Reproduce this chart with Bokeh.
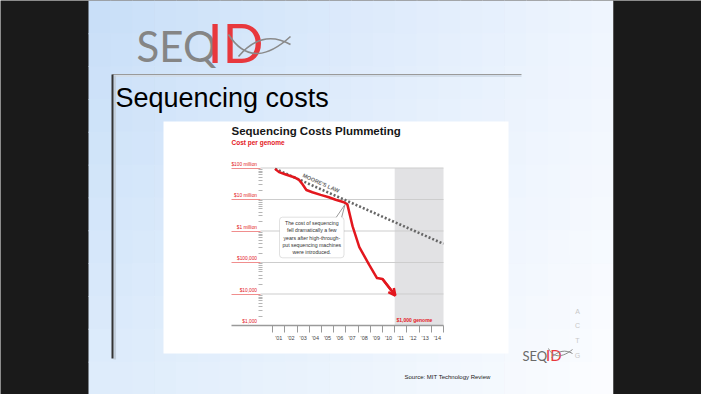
import numpy as np
from bokeh.plotting import figure
from bokeh.models import (Range1d, LinearAxis, LogAxis, FixedTicker, BoxAnnotation,
                          Arrow, OpenHead, ColumnDataSource)
from bokeh.core.properties import value
from bokeh.embed import file_html
from bokeh.resources import INLINE

# ---------------- data ----------------
cost_years = [2001.19, 2001.52, 2002.07, 2002.75, 2003.16, 2003.43, 2003.76, 2004.25,
              2004.93, 2005.60, 2006.16, 2006.84, 2007.12, 2007.55, 2008.10, 2008.90,
              2009.55, 2010.00, 2011.05]
cost_per_genome = [94e6, 74e6, 62e6, 51e6, 42e6, 31e6, 20e6, 17e6,
                   14e6, 11.8e6, 9.8e6, 8.2e6, 7.0e6, 1.4e6, 3.1e5, 8.5e4,
                   3.2e4, 3.0e4, 8.9e3]
moore_years = [2001.2, 2015.0]
moore_cost = [94e6, 3.9e5]
y_tick_values = [1e3, 1e4, 1e5, 1e6, 1e7, 1e8]
y_tick_labels = ["$1,000", "$10,000", "$100,000", "$1 million", "$10 million", "$100 million"]
x_tick_years = list(range(2001, 2015))
x_tick_labels = ["'01", "'02", "'03", "'04", "'05", "'06", "'07", "'08", "'09", "'10",
                 "'11", "'12", "'13", "'14"]
axis_start_year, axis_end_year = 2000, 2015
forecast_years = [2011, 2015]
callout_lines = ["The cost of sequencing", "fell dramatically a few",
                 "years after high-through-", "put sequencing machines",
                 "were introduced."]

# ---------------- layout (pixel geometry of the screenshot) ----------------
W, H = 701, 394
OFF = 0
PX_PER_YEAR = 12.2
X_ANCHOR_YEAR, X_ANCHOR_PX = 2001, 272.2
PX_PER_DEC = 31.5
Y_ANCHOR_DEC, Y_ANCHOR_PX = 3, 325.0

x_start = X_ANCHOR_YEAR - (X_ANCHOR_PX - OFF) / PX_PER_YEAR
x_end = x_start + W / PX_PER_YEAR
dec_top = Y_ANCHOR_DEC + (Y_ANCHOR_PX - OFF) / PX_PER_DEC
dec_bot = dec_top - H / PX_PER_DEC


def dx(px):
    return x_start + (px - OFF) / PX_PER_YEAR


def dy(py):
    return 10 ** (dec_top - (py - OFF) / PX_PER_DEC)


def base(py, size, k=0.3):
    # alphabetic baseline correction for the text glyph
    return dy(py - k * size)


RED = "#e3171e"
FONT = "Liberation Sans"

p = figure(width=W, height=H, x_range=Range1d(x_start, x_end),
           y_range=Range1d(10 ** dec_bot, 10 ** dec_top), y_axis_type="log",
           x_axis_location=None, y_axis_location=None, output_backend="svg",
           toolbar_location=None, title=None, min_border=0)
p.grid.visible = False
p.outline_line_color = None
p.background_fill_color = "#1a1a1a"
p.border_fill_color = "#1a1a1a"

# ---------------- slide background gradient ----------------
SL, SR = 88, 613
nx, ny = 24, 12
xe = np.linspace(SL, SR, nx + 1)
ye = np.linspace(OFF, OFF + H, ny + 1)
TL = np.array([199, 222, 248]); TR = np.array([239, 245, 254])
BL = np.array([222, 236, 251]); BR = np.array([252, 253, 255])
L, R, T, B, C = [], [], [], [], []
for i in range(nx):
    for j in range(ny):
        u = ((xe[i] + xe[i + 1]) / 2 - SL) / (SR - SL)
        v = ((ye[j] + ye[j + 1]) / 2 - OFF) / H
        c = (1 - u) * (1 - v) * TL + u * (1 - v) * TR + (1 - u) * v * BL + u * v * BR
        L.append(dx(xe[i])); R.append(dx(min(xe[i + 1] + 0.8, SR)))
        T.append(dy(ye[j])); B.append(dy(ye[j + 1] + 0.8))
        C.append("#%02x%02x%02x" % tuple(int(round(k)) for k in c))
p.quad(left=L, right=R, top=T, bottom=B, fill_color=C, line_color=None)
p.segment(x0=[dx(613)], y0=[dy(0)], x1=[dx(613)], y1=[dy(394)], line_color="#555555", line_width=1)

# slide lines
p.segment(x0=[dx(112)], y0=[dy(75.6)], x1=[dx(521)], y1=[dy(75.6)], line_color="#d3deea", line_width=2)
p.segment(x0=[dx(112)], y0=[dy(74)], x1=[dx(521)], y1=[dy(74)], line_color="#9a9a9a", line_width=1)
p.segment(x0=[dx(114.3)], y0=[dy(75)], x1=[dx(114.3)], y1=[dy(359)], line_color="#c3cfdc", line_width=2.5)
p.segment(x0=[dx(112)], y0=[dy(74)], x1=[dx(112)], y1=[dy(358)], line_color="#333333", line_width=2)

# logo (top)
p.text(x=[dx(136)], y=[base(62, 42, 0.4)], text=["SEQ"], text_font=value("Lato"), text_font_size="42px",
       text_color="#858585", text_baseline="alphabetic")
p.text(x=[dx(207)], y=[base(62, 54, 0.37)], text=["ID"], text_font=value("Lato"), text_font_size="54px",
       text_color="#e8383d", text_baseline="alphabetic")
p.bezier(x0=[dx(228), dx(238)], y0=[dy(34), dy(56)], x1=[dx(290), dx(290)], y1=[dy(36), dy(44)],
         cx0=[dx(246), dx(255)], cy0=[dy(62), dy(36)], cx1=[dx(268), dx(272)], cy1=[dy(56), dy(34)],
         line_color="#8a8a8a", line_width=1.6)

# slide title
p.text(x=[dx(115)], y=[base(106, 27)], text=["Sequencing costs"], text_font=value(FONT),
       text_font_size="27px", text_color="black", text_baseline="alphabetic")

# chart image white area
p.quad(left=[dx(163)], right=[dx(508)], top=[dy(121)], bottom=[dy(353)],
       fill_color="white", line_color=None)

# ---------------- chart ----------------
p.quad(left=[forecast_years[0]], right=[forecast_years[1]], top=[y_tick_values[-1]],
       bottom=[y_tick_values[0]], fill_color="#e2e2e4", line_color=None)
grid_vals = y_tick_values[1:]
p.segment(x0=[axis_start_year] * len(grid_vals), x1=[axis_end_year] * len(grid_vals),
          y0=grid_vals, y1=grid_vals, line_color="#cdcdcd", line_width=1)

p.line(moore_years, moore_cost, line_color="#666666", line_width=2.6, line_dash="2 2")
p.line(cost_years, cost_per_genome, line_color=RED, line_width=2.5, line_join="round")
p.add_layout(Arrow(end=OpenHead(size=7, line_color=RED, line_width=2.5),
                   x_start=cost_years[-2], y_start=cost_per_genome[-2],
                   x_end=cost_years[-1], y_end=cost_per_genome[-1],
                   line_color=RED, line_width=2.5))

# axes
xaxis = LinearAxis(fixed_location=y_tick_values[0], bounds=(dx(231), axis_end_year),
                   ticker=FixedTicker(ticks=[y + 0.5 for y in x_tick_years],
                                      minor_ticks=x_tick_years + [axis_end_year]),
                   major_label_overrides={y + 0.5: l for y, l in zip(x_tick_years, x_tick_labels)})
xaxis.axis_line_color = "#9a9a9a"
xaxis.axis_line_width = 1.6
xaxis.major_tick_in = 0
xaxis.major_tick_out = 0
xaxis.minor_tick_in = 0
xaxis.minor_tick_out = 7
xaxis.minor_tick_line_color = "#999999"
xaxis.major_label_standoff = 2
xaxis.major_label_text_font = FONT
xaxis.major_label_text_font_size = "5.5px"
xaxis.major_label_text_color = "#444444"
p.add_layout(xaxis, "below")

minor_y = [k * 10 ** d for d in range(3, 8) for k in range(2, 10)]
yaxis = LogAxis(fixed_location=axis_start_year, bounds=(y_tick_values[0], y_tick_values[-1]),
                ticker=FixedTicker(ticks=grid_vals, minor_ticks=minor_y))
yaxis.axis_line_color = None
yaxis.major_tick_in = 0
yaxis.major_tick_out = 29
yaxis.major_tick_line_color = "#f08e8e"
yaxis.minor_tick_in = 2
yaxis.minor_tick_out = 2
yaxis.minor_tick_line_color = "#b5b5b5"
yaxis.major_label_text_font_size = "5px"
yaxis.major_label_text_alpha = 0
p.add_layout(yaxis, "left")

ylab = ColumnDataSource(dict(y=y_tick_values, text=y_tick_labels))
p.text(x=dx(256.5), y="y", text="text", source=ylab, text_align="right", text_baseline="bottom",
       text_font=value(FONT), text_font_size="4.8px", text_color=RED, y_offset=-1.2)

# chart titles
p.text(x=[dx(231)], y=[base(134, 11.5)], text=["Sequencing Costs Plummeting"], text_font=value(FONT),
       text_font_size="11.5px", text_font_style="bold", text_color="#161616",
       text_baseline="alphabetic")
p.text(x=[dx(231)], y=[base(143.5, 6.5)], text=["Cost per genome"], text_font=value(FONT),
       text_font_size="6.5px", text_font_style="bold", text_color=RED,
       text_baseline="alphabetic")

# Moore's law label along the line
slope_px = (np.log10(moore_cost[0] / moore_cost[1]) / (moore_years[1] - moore_years[0])) * PX_PER_DEC / PX_PER_YEAR
p.text(x=[dx(320.5)], y=[dy(182.5)], text=["MOORE'S LAW"], angle=-float(np.arctan(slope_px)),
       text_font=value(FONT), text_font_size="5.5px", text_font_style="bold",
       text_color="#6a6a6a", text_align="center", text_baseline="middle")

# callout
p.add_layout(BoxAnnotation(left=dx(279), right=dx(343.5), top=dy(216.7), bottom=dy(257.3),
                           fill_color="white", fill_alpha=1, line_color="#9a9a9a", line_width=1,
                           border_radius=3))
p.text(x=[dx(311.3)] * len(callout_lines), y=[dy(222.2 + 7.4 * k) for k in range(len(callout_lines))],
       text=callout_lines, text_font=value(FONT), text_font_size="5.2px", text_color="#333333",
       text_align="center", text_baseline="middle", level="overlay")
p.patch([dx(335.8), dx(344.5), dx(341.2)], [dy(217.5), dy(204), dy(217.5)],
        fill_color="white", line_color=None, level="overlay")
p.line([dx(335.8), dx(344.5), dx(341.2)], [dy(216.7), dy(204), dy(216.7)],
       line_color="#9a9a9a", line_width=1, level="overlay")

p.text(x=[dx(396)], y=[base(321.3, 5)], text=["$1,000 genome"], text_font=value(FONT),
       text_font_size="5px", text_font_style="bold", text_color=RED,
       text_baseline="alphabetic")

# source + small logo
p.text(x=[dx(404)], y=[base(378.5, 6)], text=["Source: MIT Technology Review"], text_font=value(FONT),
       text_font_size="6px", text_color="#222222", text_baseline="alphabetic")
p.text(x=[dx(522)], y=[base(360.5, 13, 0.4)], text=["SEQ"], text_font=value("Lato"), text_font_size="13px",
       text_color="#6a6a6a", text_baseline="alphabetic")
p.text(x=[dx(545.5)], y=[base(360.5, 15, 0.4)], text=["ID"], text_font=value("Lato"), text_font_size="15px",
       text_color="#e8383d", text_baseline="alphabetic")
p.bezier(x0=[dx(548), dx(551)], y0=[dy(348), dy(357)], x1=[dx(572), dx(572)], y1=[dy(349), dy(353)],
         cx0=[dx(553), dx(558)], cy0=[dy(358), dy(350)], cx1=[dx(562), dx(565)], cy1=[dy(357), dy(349)],
         line_color="#8a8a8a", line_width=1)
actg = ["A", "C", "T", "G"]
p.text(x=[dx(577)] * 4, y=[dy(v) for v in (310.7, 325.3, 340, 355)], text=actg,
       text_align="center", text_baseline="middle", text_font=value(FONT),
       text_font_size="7px", text_color="#c8c8c8")

open("out.html", "w").write(file_html(p, INLINE))
